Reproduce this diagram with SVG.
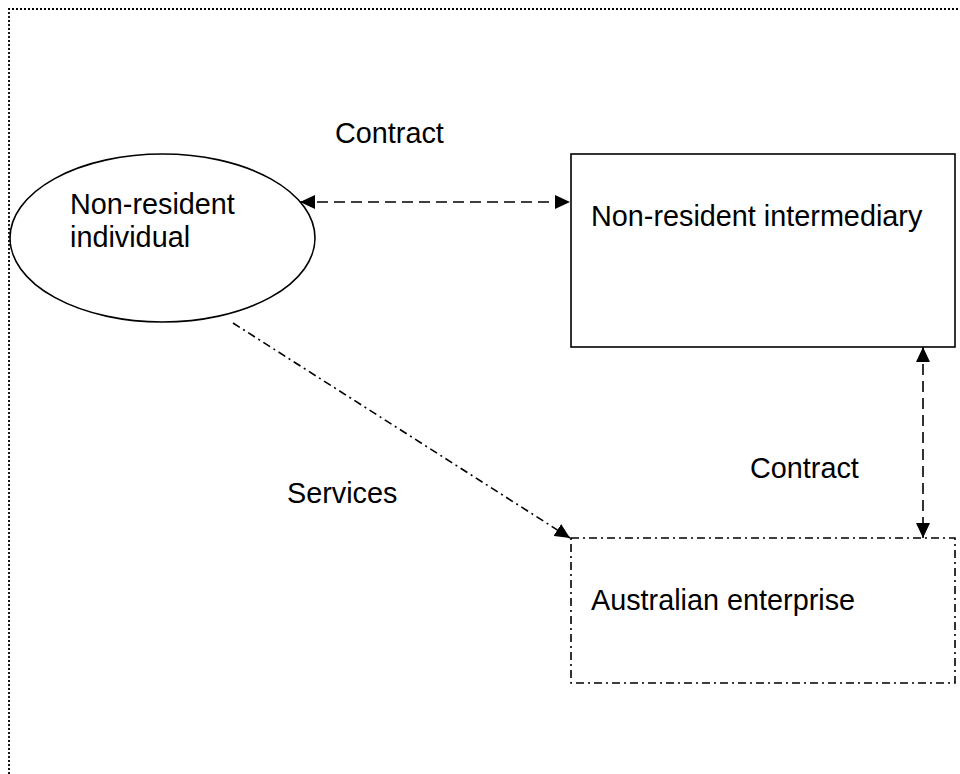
<svg xmlns="http://www.w3.org/2000/svg" width="960" height="774" viewBox="0 0 960 774">
  <style>
    .lbl { font-family: "Liberation Sans", Arial, sans-serif; font-size: 28.8px; fill: #000; }
    .solid { fill: #fff; stroke: #000; stroke-width: 1.6; }
    .dashdot { fill: none; stroke: #000; stroke-width: 1.6; stroke-dasharray: 8 4 2 4; }
    .dashed { fill: none; stroke: #000; stroke-width: 1.6; stroke-dasharray: 11 6; }
    .frame { fill: none; stroke: #000; stroke-width: 1.8; stroke-dasharray: 2 2; }
  </style>
  <defs>
    <marker id="arrow" markerUnits="userSpaceOnUse" markerWidth="15" markerHeight="14" refX="15" refY="7" orient="auto-start-reverse">
      <path d="M0,0 L15,7 L0,14 Z" fill="#000"/>
    </marker>
  </defs>
  <rect width="960" height="774" fill="#fff"/>
  <path class="frame" d="M9,774 V9 H960"/>

  <g id="node-individual">
    <ellipse class="solid" cx="162.5" cy="238" rx="152.5" ry="84"/>
    <text class="lbl" x="70" y="214">Non-resident</text>
    <text class="lbl" x="70" y="247">individual</text>
  </g>

  <g id="node-intermediary">
    <rect class="solid" x="571" y="154" width="384" height="193"/>
    <text class="lbl" x="591" y="226">Non-resident intermediary</text>
  </g>

  <g id="node-enterprise">
    <rect class="dashdot" x="571" y="538" width="384" height="145"/>
    <text class="lbl" x="591" y="610">Australian enterprise</text>
  </g>

  <g id="connectors">
    <line class="dashed" x1="300" y1="202" x2="570" y2="202" marker-start="url(#arrow)" marker-end="url(#arrow)"/>
    <line class="dashed" x1="923" y1="347" x2="923" y2="538" marker-start="url(#arrow)" marker-end="url(#arrow)"/>
    <line class="dashdot" x1="233" y1="323" x2="570" y2="538" marker-end="url(#arrow)"/>
    <text class="lbl" x="335" y="143">Contract</text>
    <text class="lbl" x="750" y="478">Contract</text>
    <text class="lbl" x="287" y="503">Services</text>
  </g>
</svg>
